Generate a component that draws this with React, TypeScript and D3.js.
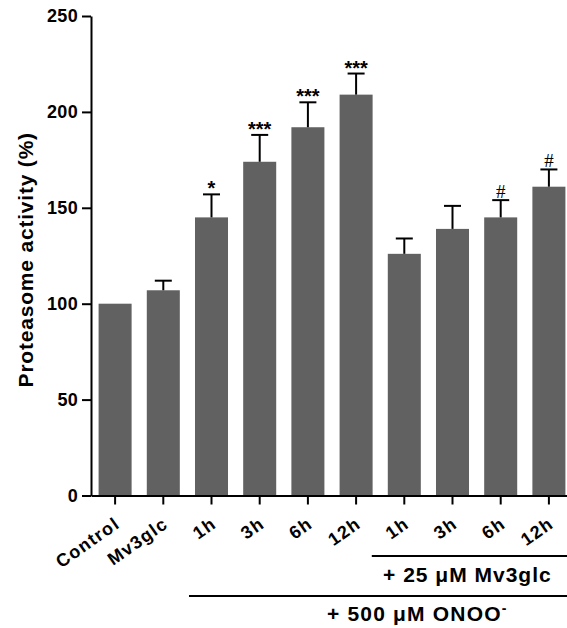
import React, { useEffect, useRef } from 'react'
import * as d3 from 'd3'

const categories = ['Control', 'Mv3glc', '1h', '3h', '6h', '12h', '1h', '3h', '6h', '12h']
const means = [100, 107, 145, 174, 192, 209, 126, 139, 145, 161]
const errors = [0, 5, 12, 14, 13, 11, 8, 12, 9, 9]
const marks = ['', '', '*', '***', '***', '***', '', '', '#', '#']
const yTicks = [0, 50, 100, 150, 200, 250]

const W = 567
const H = 628
const FONT = '"Liberation Sans", Arial, sans-serif'
const BAR = '#616161'

function App() {
  const ref = useRef<SVGSVGElement>(null)

  useEffect(() => {
    drawChart(ref.current as SVGSVGElement)
  }, [])

  return (
    <div style={{ position: 'absolute', left: 0, top: 0 }}>
      <svg ref={ref} width={W} height={H} style={{ display: 'block' }}></svg>
    </div>
  )
}

function drawChart(node: SVGSVGElement) {
  const svg = d3.select(node)
  svg.selectAll('*').remove()

  const idx = categories.map((_, i) => String(i))
  const x = d3.scaleBand().domain(idx).range([91, 573]).paddingInner(0.315).paddingOuter(0.1575)
  const y = d3.scaleLinear().domain([0, 250]).range([495.5, 16])
  const cx = (i: number) => (x(String(i)) as number) + x.bandwidth() / 2

  // bars
  svg.append('g')
    .selectAll('rect')
    .data(means)
    .enter()
    .append('rect')
    .attr('x', (d, i) => x(String(i)) as number)
    .attr('y', d => y(d))
    .attr('width', x.bandwidth())
    .attr('height', d => y(0) - y(d))
    .attr('fill', BAR)

  // error bars (upper only)
  const eb = svg.append('g').attr('stroke', '#000').attr('stroke-width', 2)
  means.forEach((m, i) => {
    if (!errors[i]) return
    eb.append('line')
      .attr('x1', cx(i)).attr('x2', cx(i))
      .attr('y1', y(m)).attr('y2', y(m + errors[i]))
    eb.append('line')
      .attr('x1', cx(i) - 8.5).attr('x2', cx(i) + 8.5)
      .attr('y1', y(m + errors[i])).attr('y2', y(m + errors[i]))
  })

  // significance marks
  svg.append('g')
    .selectAll('text')
    .data(marks)
    .enter()
    .append('text')
    .attr('x', (d, i) => cx(i))
    .attr('y', (d, i) => y(means[i] + errors[i]) - (d === '#' ? 2 : -1))
    .attr('text-anchor', 'middle')
    .attr('font-family', d => d === '#' ? '"Liberation Serif", serif' : FONT)
    .attr('font-weight', d => d === '#' ? 'normal' : 'bold')
    .attr('font-size', d => d === '#' ? 19 : 20)
    .text(d => d)

  // y axis
  const yAxis = d3.axisLeft(y).tickValues(yTicks).tickSize(9).tickSizeOuter(0).tickPadding(4)
  const gy = svg.append('g').attr('transform', 'translate(91,0)').call(yAxis)
  gy.select('.domain').attr('stroke-width', 2)
  gy.selectAll('.tick line').attr('stroke-width', 2)
  gy.selectAll('.tick text')
    .attr('font-family', FONT)
    .attr('font-weight', 'bold')
    .attr('font-size', 18)
    .attr('letter-spacing', 0.3)
    .attr('fill', '#000')

  // x axis
  const xAxis = d3.axisBottom(x).tickSize(9).tickSizeOuter(0).tickFormat(() => '')
  const gx = svg.append('g').attr('transform', `translate(0,${y(0)})`).call(xAxis)
  gx.select('.domain').attr('stroke-width', 2)
  gx.selectAll('.tick line').attr('stroke-width', 2)

  svg.append('g')
    .selectAll('text')
    .data(categories)
    .enter()
    .append('text')
    .attr('transform', (d, i) => `translate(${cx(i) + 6},${y(0) + 31}) rotate(-35)`)
    .attr('text-anchor', 'end')
    .attr('font-family', FONT)
    .attr('font-weight', 'bold')
    .attr('font-size', 18)
    .attr('letter-spacing', 1.3)
    .text(d => d)

  // y title
  svg.append('text')
    .attr('transform', `translate(33,${(y(0) + y(250)) / 2 + 4}) rotate(-90)`)
    .attr('text-anchor', 'middle')
    .attr('font-family', FONT)
    .attr('font-weight', 'bold')
    .attr('font-size', 21)
    .attr('letter-spacing', 0.8)
    .text('Proteasome activity (%)')

  // treatment brackets
  const l1 = (x('6') as number) - 16
  const l2 = (x('2') as number) - 6
  svg.append('line')
    .attr('x1', l1).attr('x2', W).attr('y1', 556).attr('y2', 556)
    .attr('stroke', '#000').attr('stroke-width', 2)
  svg.append('line')
    .attr('x1', l2).attr('x2', W).attr('y1', 596).attr('y2', 596)
    .attr('stroke', '#000').attr('stroke-width', 2)

  svg.append('text')
    .attr('x', (l1 + W) / 2 - 2)
    .attr('y', 582)
    .attr('text-anchor', 'middle')
    .attr('font-family', FONT)
    .attr('font-weight', 'bold')
    .attr('font-size', 21)
    .attr('letter-spacing', 1)
    .text('+ 25 μM Mv3glc')

  const t2 = svg.append('text')
    .attr('x', cx(6) + 13)
    .attr('y', 621)
    .attr('text-anchor', 'middle')
    .attr('font-family', FONT)
    .attr('font-weight', 'bold')
    .attr('font-size', 21)
    .attr('letter-spacing', 1.2)
  t2.append('tspan').text('+ 500 μM ONOO')
  t2.append('tspan').attr('dy', -8).attr('font-size', 14).text('-')
}

export default App
